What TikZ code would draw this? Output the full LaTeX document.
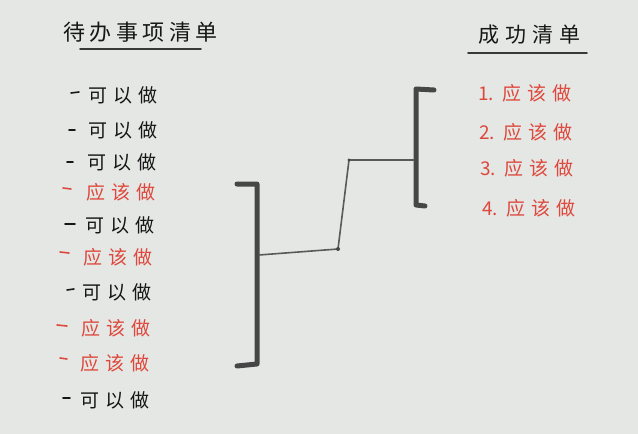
\documentclass[tikz,border=0pt]{standalone}
\usepackage{fontspec}
\setmainfont{Noto Sans CJK SC}
\definecolor{paper}{RGB}{229,231,229}
\definecolor{ink}{RGB}{22,22,22}
\definecolor{redink}{RGB}{222,72,60}
\definecolor{pencil}{RGB}{70,70,70}
\newcommand\gapch{\hspace{6pt}}
\newcommand\gapti{\hspace{4.5pt}}
\begin{document}
\begin{tikzpicture}[x=1pt,y=-1pt,
  item/.style={anchor=west,inner sep=0pt,font=\fontsize{19}{19}\selectfont},
  todo/.style={item,text=ink},
  must/.style={item,text=redink},
  titletext/.style={anchor=west,inner sep=0pt,text=ink,font=\fontsize{22}{22}\selectfont},
  dashmark/.style={line width=1.6pt,line cap=round},
  bracketline/.style={draw=pencil,line width=5pt,line cap=round,line join=round},
  linkline/.style={draw=pencil!90,line width=1.6pt,line cap=round,line join=round},
  rule/.style={draw=ink!85,line width=1.6pt,line cap=round}]
\fill[paper] (0,0) rectangle (638,434);
\useasboundingbox (0,0) rectangle (638,434);

% titles
\node[titletext] (t1) at (63,32) {待\gapti 办\gapti 事\gapti 项\gapti 清\gapti 单};
\node[titletext,font=\fontsize{21}{21}\selectfont] (t2) at (478,35) {成\hspace{6pt}功\hspace{6pt}清\hspace{6pt}单};
\draw[rule] (80,49) -- (201,49);
\draw[rule] (468,53) -- (587,53);

% left list
\node[todo] (a1) at (88,95) {可\gapch 以\gapch 做};
\node[todo] (a2) at (88,130) {可\gapch 以\gapch 做};
\node[todo] (a3) at (87,162) {可\gapch 以\gapch 做};
\node[must] (a4) at (86,192) {应\gapch 该\gapch 做};
\node[todo] (a5) at (85,225) {可\gapch 以\gapch 做};
\node[must] (a6) at (83,257) {应\gapch 该\gapch 做};
\node[todo] (a7) at (82,292) {可\gapch 以\gapch 做};
\node[must] (a8) at (81,328) {应\gapch 该\gapch 做};
\node[must] (a9) at (80,363) {应\gapch 该\gapch 做};
\node[todo] (a10) at (80,400) {可\gapch 以\gapch 做};

\draw[dashmark,ink] (71,93) -- (79,92);
\draw[dashmark,ink] (69,130) -- (75,130);
\draw[dashmark,ink] (67,162) -- (73,162);
\draw[dashmark,redink] (63,188) -- (71,189);
\draw[dashmark,ink] (65,224) -- (75,224);
\draw[dashmark,redink] (60,252) -- (69,253);
\draw[dashmark,ink] (67,290) -- (74,289);
\draw[dashmark,redink] (57,325) -- (67,326);
\draw[dashmark,redink] (60,358) -- (67,359);
\draw[dashmark,ink] (63,398) -- (70,398);

% right list
\node[must] (b1) at (478,93) {1.\hspace{8pt}应\hspace{6pt}该\hspace{6pt}做};
\node[must] (b2) at (479,132) {2.\hspace{8pt}应\hspace{6pt}该\hspace{6pt}做};
\node[must] (b3) at (480,168) {3.\hspace{8pt}应\hspace{6pt}该\hspace{6pt}做};
\node[must] (b4) at (482,208) {4.\hspace{8pt}应\hspace{6pt}该\hspace{6pt}做};

% brackets
\coordinate (lt) at (257,184);
\coordinate (lb) at (257,364);
\coordinate (lm) at (259,255);
\draw[bracketline] (237,184) -- (lt) -- (lb) -- (237,366);
\coordinate (rt) at (416,89);
\coordinate (rb) at (416,205);
\coordinate (rm) at (414,160);
\draw[bracketline] (434,90) -- (rt) -- (rb) -- (425,206);

% link
\coordinate (k1) at (338,249);
\coordinate (k2) at (349,160);
\draw[linkline] (lm) -- (k1) -- (k2) -- (rm);
\fill[pencil] (k1) circle (2pt) (k2) circle (1.6pt);
\end{tikzpicture}
\end{document}
